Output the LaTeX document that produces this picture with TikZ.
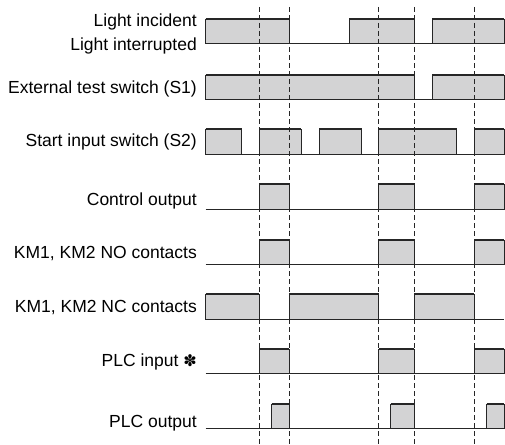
\documentclass[tikz,border=0pt]{standalone}
\usepackage{fontspec}
\setmainfont{Liberation Sans}
\newfontfamily\symfont{DejaVu Sans}
\definecolor{sgray}{RGB}{211,211,212}

\tikzset{
  lbl/.style={anchor=base east, inner sep=0pt, font=\fontsize{17.5}{21}\selectfont},
  pulse/.style={fill=sgray, draw=black!85, line width=0.9pt},
  hightop/.style={draw=black!85, line width=2pt},
  baseline/.style={draw=black!85, line width=0.9pt},
  guide/.style={draw=black!85, line width=0.8pt, dash pattern=on 5pt off 3pt}
}

\begin{document}
\begin{tikzpicture}[x=1pt, y=-1pt]
    \useasboundingbox (0,0) rectangle (505,444);

    % Signal labels
    \node[lbl] (incident) at (197, 26.7) {Light incident};
    \node[lbl] (interrupted) at (197, 50) {Light interrupted};
    \node[lbl] (s1) at (197, 93.3) {External test switch (S1)};
    \node[lbl] (s2) at (197, 146.7) {Start input switch (S2)};
    \node[lbl] (ctrl) at (197, 205) {Control output};
    \node[lbl] (nocont) at (197, 258.3) {KM1, KM2 NO contacts};
    \node[lbl] (nccont) at (197, 312.7) {KM1, KM2 NC contacts};
    \node[lbl] (plcin) at (197, 366) {PLC input {\symfont\fontsize{16}{18}\selectfont ✽}};
    \node[lbl] (plcout) at (197, 427.7) {PLC output};

    % Waveforms: top / bottom / pulses (start/end)
    \foreach \t/\b/\l in {
        19.3/43.7/{205.7/289.3, 349/414.3, 432.3/504.3},
        75/99/{205.7/414.3, 432.3/504.3},
        129/154/{205.7/241.7, 259.3/301, 319.3/361.7, 378.7/456.7, 474.3/504.3},
        184.3/209.3/{259.3/289.3, 378.7/414.3, 474.3/504.3},
        240/264/{259.3/289.3, 378.7/414.3, 474.3/504.3},
        294.3/319/{205.7/259.3, 289.3/378.7, 414.3/474.3},
        349.3/373.3/{259.3/289.3, 378.7/414.3, 474.3/504.3},
        404.3/428.3/{271.7/289.3, 390.7/414.3, 486.7/504.3}} {
        \draw[baseline] (205.7, \b) -- (504.3, \b);
        \foreach \s/\e in \l {
            \filldraw[pulse] (\s, \b) rectangle (\e, \t);
            \draw[hightop] (\s, \t) -- (\e, \t);
        }
    }

    % Timing guides
    \foreach \x in {259.3, 289.3, 378.7, 414.3, 474.3}
        \draw[guide] (\x, 7) -- (\x, 444);
\end{tikzpicture}
\end{document}
